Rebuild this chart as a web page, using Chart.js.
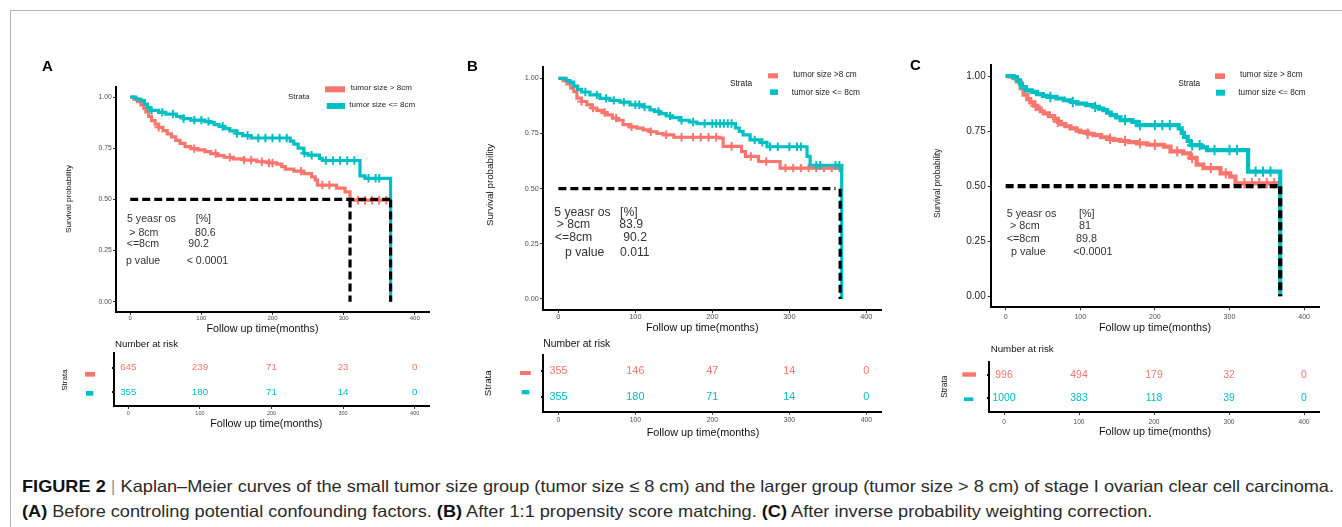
<!DOCTYPE html>
<html>
<head>
<meta charset="utf-8">
<script src="https://cdn.jsdelivr.net/npm/chart.js@4.4.1/dist/chart.umd.min.js"></script>
<style>
  body { margin: 0; width: 1342px; height: 527px; background: #fff; position: relative; overflow: hidden;
         font-family: "Liberation Sans", Arial, sans-serif; }
  #frame { position: absolute; left: 10px; top: 10px; width: 1340px; height: 530px;
           border-left: 1px solid #b4b4b4; border-top: 1px solid #b4b4b4; }
  canvas { position: absolute; }
  .cap { position: absolute; left: 22px; font-size: 16.5px; color: #2a2a2a; white-space: nowrap;
         transform-origin: 0 50%; line-height: 19px; }
  .cap b { color: #111; }
  .cap .bar { color: #999; }
</style>
</head>
<body>
<div id="frame"></div>
<div class="cap" id="cap1" style="top:477px"><b>FIGURE 2</b> <span class="bar">|</span> Kaplan–Meier curves of the small tumor size group (tumor size ≤ 8 cm) and the larger group (tumor size &gt; 8 cm) of stage I ovarian clear cell carcinoma.</div>
<div class="cap" id="cap2" style="top:502px"><b>(A)</b> Before controling potential confounding factors. <b>(B)</b> After 1:1 propensity score matching. <b>(C)</b> After inverse probability weighting correction.</div>

<script>
// ---- data ----
const xTicks = [0, 100, 200, 300, 400];
const yTicks = [0, 0.25, 0.5, 0.75, 1];
const riskTimes = [0, 100, 200, 300, 400];

// A: before controlling confounders
const aBigT = [0, 5, 10, 15, 19, 22, 26, 30, 35, 40, 46, 52, 58, 64, 70, 77, 85, 95, 105, 113, 122, 132, 145, 160, 178, 195, 206, 213, 218, 230, 244, 255, 260, 263, 290, 302, 309, 363];
const aBigS = [1, 0.99, 0.978, 0.962, 0.945, 0.928, 0.905, 0.885, 0.868, 0.852, 0.836, 0.82, 0.805, 0.788, 0.774, 0.758, 0.748, 0.742, 0.733, 0.724, 0.714, 0.706, 0.698, 0.692, 0.684, 0.678, 0.672, 0.66, 0.648, 0.638, 0.626, 0.61, 0.595, 0.57, 0.555, 0.537, 0.496, 0.496];
const aSmallT = [0, 8, 15, 20, 24, 29, 40, 50, 65, 75, 85, 105, 113, 118, 125, 132, 140, 150, 158, 170, 225, 230, 236, 244, 250, 266, 270, 323, 330, 366];
const aSmallS = [1, 0.99, 0.982, 0.965, 0.948, 0.935, 0.925, 0.917, 0.905, 0.895, 0.887, 0.88, 0.876, 0.865, 0.857, 0.846, 0.835, 0.822, 0.812, 0.8, 0.785, 0.77, 0.75, 0.725, 0.716, 0.7, 0.69, 0.615, 0.603, 0];
const aBigCens = [40, 90, 120, 140, 160, 170, 185, 195, 200, 240, 270, 280, 320, 330, 340, 350, 360];
const aSmallCens = [30, 45, 60, 75, 90, 100, 110, 130, 150, 165, 180, 190, 200, 210, 220, 245, 255, 275, 285, 295, 305, 315, 335, 345, 350];
const aMedian = { h: 366, v: [309, 366] };
const aRiskBig = [645, 239, 71, 23, 0];
const aRiskSmall = [355, 180, 71, 14, 0];
const aOs = ['80.6', '90.2', '< 0.0001'];
const aLegend = ['tumor size > 8cm', 'tumor size <= 8cm'];

// B: after 1:1 propensity score matching
const bBigT = [0, 6, 11, 16, 20, 24, 30, 37, 44, 50, 57, 63, 70, 76, 84, 92, 102, 110, 119, 128, 136, 150, 210, 214, 238, 243, 260, 288, 368];
const bBigS = [1, 0.99, 0.975, 0.955, 0.94, 0.91, 0.895, 0.88, 0.865, 0.855, 0.845, 0.834, 0.82, 0.81, 0.79, 0.78, 0.774, 0.766, 0.758, 0.75, 0.744, 0.733, 0.729, 0.692, 0.668, 0.646, 0.623, 0.593, 0.593];
const bSmallT = [0, 10, 15, 20, 25, 30, 41, 54, 67, 80, 93, 110, 119, 125, 132, 140, 148, 158, 170, 180, 230, 235, 240, 249, 262, 271, 323, 327, 368];
const bSmallS = [1, 0.99, 0.983, 0.965, 0.95, 0.938, 0.925, 0.909, 0.9, 0.892, 0.88, 0.87, 0.857, 0.85, 0.84, 0.83, 0.822, 0.81, 0.802, 0.795, 0.775, 0.76, 0.744, 0.721, 0.71, 0.69, 0.646, 0.606, 0];
const bBigCens = [30, 45, 60, 75, 95, 120, 140, 160, 175, 185, 195, 205, 225, 250, 270, 295, 305, 315, 325, 335, 345, 355, 365];
const bSmallCens = [35, 50, 62, 72, 85, 100, 105, 112, 130, 145, 160, 175, 190, 200, 205, 210, 215, 220, 225, 255, 265, 275, 285, 300, 310, 315, 335, 340, 360, 365];
const bMedian = { h: 360, v: [366] };
const bRiskBig = [355, 146, 47, 14, 0];
const bRiskSmall = [355, 180, 71, 14, 0];
const bOs = ['83.9', '90.2', '0.011'];
const bLegend = ['tumor size >8 cm', 'tumor size <= 8cm'];

// C: after inverse probability weighting
const cBigT = [0, 5, 11, 15, 20, 24, 29, 33, 38, 42, 47, 51, 58, 65, 70, 74, 80, 87, 95, 100, 110, 118, 128, 136, 145, 154, 165, 176, 190, 212, 221, 238, 247, 256, 265, 288, 301, 308, 368];
const cBigS = [1, 0.998, 0.99, 0.975, 0.945, 0.915, 0.895, 0.88, 0.865, 0.852, 0.84, 0.83, 0.818, 0.806, 0.792, 0.782, 0.772, 0.762, 0.752, 0.746, 0.738, 0.732, 0.722, 0.715, 0.71, 0.705, 0.7, 0.694, 0.688, 0.679, 0.658, 0.649, 0.628, 0.598, 0.582, 0.558, 0.543, 0.513, 0.513];
const cSmallT = [0, 10, 15, 19, 22, 27, 35, 42, 50, 56, 68, 78, 88, 96, 108, 118, 125, 131, 136, 141, 148, 154, 170, 176, 232, 236, 239, 244, 248, 262, 270, 325, 368];
const cSmallS = [1, 0.995, 0.982, 0.965, 0.95, 0.935, 0.928, 0.918, 0.91, 0.905, 0.898, 0.89, 0.882, 0.875, 0.868, 0.86, 0.852, 0.845, 0.834, 0.822, 0.812, 0.8, 0.792, 0.777, 0.762, 0.742, 0.724, 0.705, 0.686, 0.676, 0.664, 0.566, 0];
const cBigCens = [40, 70, 110, 140, 160, 180, 200, 230, 250, 275, 295, 320, 330, 340, 350, 360];
const cSmallCens = [60, 90, 120, 160, 180, 200, 210, 220, 250, 260, 280, 300, 310, 335, 345, 355];
const cMedian = { h: 368, v: [368] };
const cRiskBig = [996, 494, 179, 32, 0];
const cRiskSmall = [1000, 383, 118, 39, 0];
const cOs = ['81', '89.8', '<0.0001'];
const cLegend = ['tumor size > 8cm', 'tumor size <= 8cm'];

const RED = '#F8766D';
const TEAL = '#00BFC4';
const FONT = '"Liberation Sans", Arial, sans-serif';

// ---- page layout (absolute page pixels) ----
const panels = [
  {
    letter: ['A', 42, 67],
    km: { left: 30, top: 50, w: 420, h: 290, area: [116, 86.8, 429, 312] },
    risk: { left: 30, top: 336, w: 420, h: 106, area: [114, 353, 429, 406], y: [0.443, 2.6] },
    f: { yTick: 6.8, xTick: 6, riskTick: 5.5, ann: 10.6, legend: 8, ylab: 8.1, xlab: 10.8, nar: 9.7, risk: 9.8 },
    pad: { y: 1.3, x: 0, risk: 1 },
    lineW: 3.2,
    ylab: [68.3, 199], xlab: [262.5, 329], riskXlab: [266.3, 424],
    strata: [288, 97],
    swatch: [[325, 89.3, 20, 6], [326.7, 106, 18.3, 6]],
    legText: [[350.7, 87.7], [349.3, 105]],
    annL: [[127, 219], [129.3, 232.7], [126.7, 244.3], [126, 261]],
    annR: [[195.7, 219], [195, 232.7], [188.3, 244.3], [186.7, 261]],
    nar: [115, 344.3],
    riskStrata: [64.3, 380],
    riskSwatch: [[85, 374.3, 10, 4.7], [86, 393.3, 7.3, 4.7]],
    curves: [aBigT, aBigS, aSmallT, aSmallS, aBigCens, aSmallCens],
    median: aMedian, riskRows: [aRiskBig, aRiskSmall], os: aOs, legend: aLegend
  },
  {
    letter: ['B', 467, 67],
    km: { left: 460, top: 50, w: 440, h: 290, area: [543, 67.3, 881.7, 310] },
    risk: { left: 460, top: 336, w: 440, h: 106, area: [543, 355, 881.7, 411.7], y: [0.416, 2.62] },
    f: { yTick: 7.2, xTick: 7.4, riskTick: 6.8, ann: 12.2, legend: 8.3, ylab: 9.8, xlab: 10.85, nar: 10.3, risk: 10.8 },
    pad: { y: 1.3, x: 0, risk: 1 },
    lineW: 3.2,
    ylab: [490, 185], xlab: [702.3, 327.7], riskXlab: [703, 433],
    strata: [730, 83.3],
    swatch: [[768, 75.8, 10, 5], [770, 92.2, 8, 5.7]],
    legText: [[793.3, 75], [791.7, 92.3]],
    annL: [[554.3, 212.7], [556.7, 224.3], [555, 237.7], [565, 252.3]],
    annR: [[620, 212.7], [619.3, 224.3], [623.3, 237.7], [620, 252.3]],
    nar: [543.3, 344.3],
    riskStrata: [488.3, 383.3],
    riskSwatch: [[520, 373, 10.7, 4], [521.7, 392.2, 7.6, 4.3]],
    curves: [bBigT, bBigS, bSmallT, bSmallS, bBigCens, bSmallCens],
    median: bMedian, riskRows: [bRiskBig, bRiskSmall], os: bOs, legend: bLegend
  },
  {
    letter: ['C', 910, 66],
    km: { left: 900, top: 50, w: 440, h: 290, area: [990.7, 65, 1319, 307.3] },
    risk: { left: 900, top: 336, w: 440, h: 106, area: [989, 362, 1319, 412], y: [0.39, 2.565] },
    f: { yTick: 10, xTick: 7, riskTick: 6.6, ann: 10.8, legend: 8.2, ylab: 8.3, xlab: 10.8, nar: 9.7, risk: 10.4 },
    pad: { y: 2, x: 3, risk: 3 },
    lineW: 4.2,
    ylab: [937.3, 183.3], xlab: [1155, 327.7], riskXlab: [1155, 431.7],
    strata: [1178.3, 83.3],
    swatch: [[1215, 76.2, 10, 5.7], [1216, 92.7, 9, 6]],
    legText: [[1240, 75], [1238.3, 92.3]],
    annL: [[1006.7, 214], [1010, 225.7], [1006.7, 239], [1011, 252.3]],
    annR: [[1079, 214], [1079, 225.7], [1076, 239], [1073.3, 252.3]],
    nar: [990.7, 349.3],
    riskStrata: [944.3, 386.7],
    riskSwatch: [[962.3, 374.5, 13.7, 4.4], [964, 399.2, 9.3, 3.7]],
    curves: [cBigT, cBigS, cSmallT, cSmallS, cBigCens, cSmallCens],
    median: cMedian, riskRows: [cRiskBig, cRiskSmall], os: cOs, legend: cLegend
  }
];

// ---- helpers ----
function makeCanvas(box) {
  const c = document.createElement('canvas');
  c.width = box.w;
  c.height = box.h;
  c.style.left = box.left + 'px';
  c.style.top = box.top + 'px';
  document.body.appendChild(c);
  return c;
}

function text(ctx, s, x, y, size, color, opt = {}) {
  ctx.save();
  ctx.font = (opt.bold ? 'bold ' : '') + size + 'px ' + FONT;
  ctx.fillStyle = color;
  ctx.textAlign = opt.align || 'left';
  ctx.textBaseline = 'middle';
  if (opt.rotate) {
    ctx.translate(x, y);
    ctx.rotate(-Math.PI / 2);
    ctx.fillText(s, 0, 0);
  } else {
    ctx.fillText(s, x, y);
  }
  ctx.restore();
}

function swatch(ctx, sw, color) {
  ctx.fillStyle = color;
  ctx.fillRect(sw[0], sw[1] - sw[3] / 2, sw[2], sw[3]);
}

function survAt(T, S, t) {
  let s = S[0];
  for (let i = 0; i < T.length; i++) if (T[i] <= t) s = S[i];
  return s;
}

function fixedTicks(values) {
  return s => { s.ticks = values.map(v => ({ value: v })); };
}

function boxPadding(box) {
  const [l, t, r, b] = box.area;
  return {
    layout: { autoPadding: false, padding: { left: 0, top: t - box.top, right: box.left + box.w - r, bottom: 0 } },
    yWidth: l - box.left,
    xHeight: box.top + box.h - b
  };
}

function xAxis(fontSize, pad, height) {
  return {
    type: 'linear', min: -20, max: 420,
    afterBuildTicks: fixedTicks(xTicks),
    afterFit: s => { s.height = height; },
    border: { display: true, color: '#000', width: 2 },
    grid: { display: true, drawOnChartArea: false, drawTicks: true, tickLength: 3, color: '#333', lineWidth: 1 },
    ticks: { font: { size: fontSize, family: FONT }, color: '#4d4d4d', padding: pad, maxRotation: 0 }
  };
}

// ---- survival panels ----
function kmChart(p) {
  const box = p.km;
  const c = makeCanvas(box);
  const g = boxPadding(box);
  const [bigT, bigS, smallT, smallS, bigC, smallC] = p.curves;

  const curve = (T, S, color, order) => ({
    data: T.map((x, i) => ({ x, y: S[i] })),
    showLine: true, stepped: true, borderColor: color, borderWidth: p.lineW,
    pointRadius: 0, order
  });
  const censor = (times, T, S, color, order) => ({
    data: times.map(x => ({ x, y: survAt(T, S, x) })),
    showLine: false, pointStyle: 'cross', pointRadius: p.lineW + 1,
    borderColor: color, borderWidth: 2, order
  });
  const dash = pts => ({
    data: pts, showLine: true, borderColor: '#000', borderWidth: p.lineW,
    borderDash: [8, 4], pointRadius: 0, order: 0
  });

  const datasets = [
    dash([{ x: 0, y: 0.5 }, { x: p.median.h, y: 0.5 }]),
    ...p.median.v.map(v => dash([{ x: v, y: 0.5 }, { x: v, y: 0 }])),
    censor(smallC, smallT, smallS, TEAL, 1),
    curve(smallT, smallS, TEAL, 2),
    censor(bigC, bigT, bigS, RED, 3),
    curve(bigT, bigS, RED, 4)
  ];

  new Chart(c, {
    type: 'scatter',
    data: { datasets },
    options: {
      responsive: false, animation: false, layout: g.layout,
      plugins: { legend: { display: false }, tooltip: { enabled: false } },
      scales: {
        x: xAxis(p.f.xTick, p.pad.x, g.xHeight),
        y: {
          type: 'linear', min: -0.05, max: 1.05,
          afterBuildTicks: fixedTicks(yTicks),
          afterFit: s => { s.width = g.yWidth; },
          border: { display: true, color: '#000', width: 2 },
          grid: { display: true, drawOnChartArea: false, drawTicks: true, tickLength: 3, color: '#333', lineWidth: 1 },
          ticks: { font: { size: p.f.yTick, family: FONT }, color: p.f.yTick > 9 ? '#222' : '#4d4d4d',
                   padding: p.pad.y, callback: v => v.toFixed(2) }
        }
      }
    },
    plugins: [{
      id: 'kmText',
      afterDraw(chart) {
        const ctx = chart.ctx;
        ctx.save();
        ctx.translate(-box.left, -box.top);
        text(ctx, p.letter[0], p.letter[1], p.letter[2], 15, '#000', { bold: true });
        text(ctx, 'Survival probability', p.ylab[0], p.ylab[1], p.f.ylab, '#111', { rotate: true, align: 'center' });
        text(ctx, 'Follow up time(months)', p.xlab[0], p.xlab[1], p.f.xlab, '#111', { align: 'center' });
        // legend
        text(ctx, 'Strata', p.strata[0], p.strata[1], p.f.legend, '#222');
        swatch(ctx, p.swatch[0], RED);
        swatch(ctx, p.swatch[1], TEAL);
        text(ctx, p.legend[0], p.legText[0][0], p.legText[0][1], p.f.legend, '#222');
        text(ctx, p.legend[1], p.legText[1][0], p.legText[1][1], p.f.legend, '#222');
        // 5-year OS annotation
        const left = ['5 yeasr os', '> 8cm', '<=8cm', 'p value'];
        const right = ['[%]', p.os[0], p.os[1], p.os[2]];
        left.forEach((s, i) => text(ctx, s, p.annL[i][0], p.annL[i][1], p.f.ann, '#333'));
        right.forEach((s, i) => text(ctx, s, p.annR[i][0], p.annR[i][1], p.f.ann, '#333'));
        ctx.restore();
      }
    }]
  });
}

// ---- number-at-risk tables ----
function riskChart(p) {
  const box = p.risk;
  const c = makeCanvas(box);
  const g = boxPadding(box);

  new Chart(c, {
    type: 'scatter',
    data: { datasets: [] },
    options: {
      responsive: false, animation: false, layout: g.layout,
      plugins: { legend: { display: false }, tooltip: { enabled: false } },
      scales: {
        x: xAxis(p.f.riskTick, p.pad.risk, g.xHeight),
        y: {
          type: 'linear', min: box.y[0], max: box.y[1],
          afterBuildTicks: fixedTicks([1, 2]),
          afterFit: s => { s.width = g.yWidth; },
          border: { display: true, color: '#000', width: 2 },
          grid: { display: true, drawOnChartArea: false, drawTicks: true, tickLength: 2, color: '#000', lineWidth: 2 },
          ticks: { display: false }
        }
      }
    },
    plugins: [{
      id: 'riskText',
      afterDraw(chart) {
        const ctx = chart.ctx;
        const xs = chart.scales.x, ys = chart.scales.y;
        p.riskRows.forEach((row, r) => {
          const y = ys.getPixelForValue(2 - r);
          row.forEach((n, i) => {
            text(ctx, String(n), xs.getPixelForValue(riskTimes[i]), y, p.f.risk, r === 0 ? RED : TEAL, { align: 'center' });
          });
        });
        ctx.save();
        ctx.translate(-box.left, -box.top);
        text(ctx, 'Number at risk', p.nar[0], p.nar[1], p.f.nar, '#111');
        text(ctx, 'Strata', p.riskStrata[0], p.riskStrata[1], p.f.ylab, '#111', { rotate: true, align: 'center' });
        swatch(ctx, p.riskSwatch[0], RED);
        swatch(ctx, p.riskSwatch[1], TEAL);
        text(ctx, 'Follow up time(months)', p.riskXlab[0], p.riskXlab[1], p.f.xlab, '#111', { align: 'center' });
        ctx.restore();
      }
    }]
  });
}

panels.forEach(p => { kmChart(p); riskChart(p); });

// stretch the caption to the printed line width
const cap1 = document.getElementById('cap1');
const cap2 = document.getElementById('cap2');
const k = 1312 / cap1.getBoundingClientRect().width;
cap1.style.transform = 'scaleX(' + k + ')';
cap2.style.transform = 'scaleX(' + k + ')';
</script>
</body>
</html>
